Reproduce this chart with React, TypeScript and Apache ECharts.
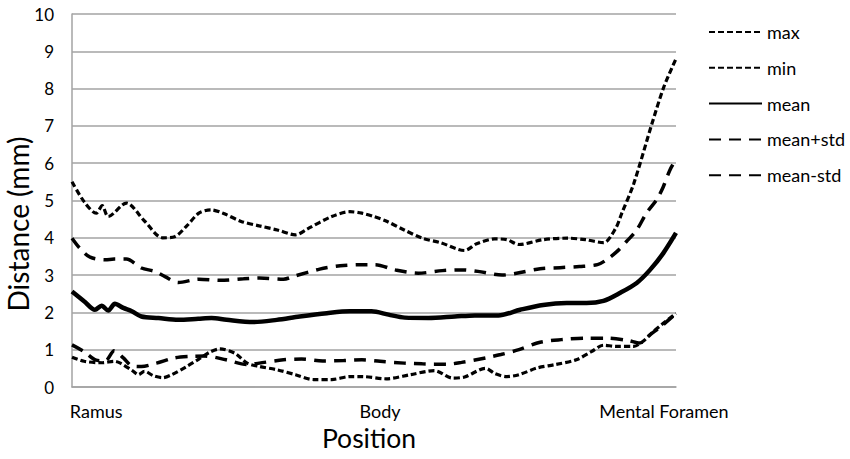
import React, { useEffect, useRef } from 'react';
import * as echarts from 'echarts';

// Positions along the mandible (0 = ramus end, 100 = mental foramen)
const positionTicks = [4, 51, 98];
const positionNames = ['Ramus', 'Body', 'Mental Foramen'];

const maxPos = [0, 2, 4, 5, 6, 9, 12, 15, 17, 19, 21, 23, 25, 28, 31, 34, 37, 39, 43, 46, 48, 50, 52, 55, 58, 61, 65, 67, 70, 72, 74, 78, 82, 85, 88, 90, 91, 93, 96, 98, 100];
const maxVal = [5.5, 4.97, 4.66, 4.86, 4.57, 4.93, 4.45, 4.0, 4.03, 4.32, 4.66, 4.75, 4.66, 4.44, 4.32, 4.21, 4.08, 4.24, 4.57, 4.7, 4.66, 4.57, 4.45, 4.21, 3.99, 3.87, 3.66, 3.84, 3.97, 3.95, 3.82, 3.95, 3.99, 3.95, 3.87, 4.25, 4.65, 5.45, 7.05, 8.05, 8.8];

const minPos = [0, 2, 5, 7, 8, 10, 11, 12, 13.5, 15, 16.5, 19, 21, 23, 24.5, 27, 29, 31, 34, 37, 40, 43, 46, 48, 52, 56, 60, 63, 65, 68.5, 70, 72, 74, 77, 80, 83.5, 86, 88, 90, 93, 94.5, 96, 98, 100];
const minVal = [0.8, 0.69, 0.65, 0.69, 0.64, 0.44, 0.33, 0.42, 0.3, 0.25, 0.33, 0.55, 0.75, 0.95, 1.02, 0.9, 0.64, 0.55, 0.46, 0.33, 0.2, 0.2, 0.28, 0.28, 0.22, 0.33, 0.44, 0.24, 0.27, 0.5, 0.36, 0.28, 0.33, 0.51, 0.6, 0.73, 0.95, 1.12, 1.09, 1.09, 1.22, 1.45, 1.72, 1.97];

const meanPos = [0, 2, 3.8, 4.9, 6, 7.1, 8.5, 9.9, 11.5, 14.3, 17.6, 20.9, 23.1, 25.6, 30, 33.9, 37.7, 42.2, 46, 49.6, 52.4, 55.1, 59, 63.4, 66.7, 70.6, 74.2, 78, 81.9, 85.2, 88, 90.7, 93.5, 95.7, 97.9, 100];
const meanVal = [2.56, 2.3, 2.07, 2.18, 2.05, 2.23, 2.12, 2.03, 1.89, 1.85, 1.8, 1.83, 1.85, 1.8, 1.74, 1.8, 1.89, 1.98, 2.03, 2.03, 1.94, 1.86, 1.85, 1.89, 1.92, 1.92, 2.07, 2.2, 2.25, 2.25, 2.31, 2.52, 2.79, 3.14, 3.59, 4.13];

const plusPos = [0, 1.3, 3, 5.5, 7, 9, 11.5, 13.7, 15.4, 17.6, 21, 24.5, 28.4, 31, 35, 37, 41, 44.4, 48, 50.2, 53.5, 57.3, 61.3, 64.6, 67.2, 71.2, 73.6, 77.5, 80.8, 84, 87, 88.5, 90.2, 91.8, 93.5, 95.1, 96.8, 97.9, 99, 100];
const plusVal = [3.99, 3.72, 3.48, 3.41, 3.43, 3.43, 3.19, 3.1, 2.96, 2.8, 2.89, 2.86, 2.9, 2.92, 2.89, 2.98, 3.16, 3.25, 3.28, 3.28, 3.14, 3.05, 3.12, 3.14, 3.1, 3.0, 3.05, 3.17, 3.2, 3.23, 3.28, 3.41, 3.63, 3.9, 4.21, 4.66, 5.02, 5.37, 5.82, 6.1];

const minusPos = [0, 2, 4, 5.5, 7, 8.5, 10, 11.5, 14, 17, 19.5, 22, 25.5, 29, 31, 35, 38, 41.5, 45, 48, 51, 55, 58, 62, 64.5, 68.5, 71, 74, 77.5, 81, 85, 88.5, 92, 94, 95.7, 97.5, 100];
const minusVal = [1.13, 0.95, 0.72, 0.7, 0.97, 0.78, 0.56, 0.55, 0.64, 0.78, 0.82, 0.83, 0.73, 0.6, 0.64, 0.73, 0.75, 0.7, 0.71, 0.73, 0.69, 0.64, 0.62, 0.61, 0.66, 0.78, 0.87, 1.0, 1.2, 1.27, 1.31, 1.31, 1.25, 1.18, 1.4, 1.62, 1.97];

const FONT = 'Lato';
const GRID_COLOR = '#a3a3a3';
const SHORT_DASH = [6, 3];
const LONG_DASH = [12, 8];

const pairs = (pos: number[], val: number[]) => pos.map((p, i) => [p, val[i]]);

const lineSeries = (name: string, pos: number[], val: number[], width: number, dash: number[] | 'solid') => ({
  name,
  type: 'line',
  data: pairs(pos, val),
  symbol: 'none',
  smooth: 0.3,
  lineStyle: { color: '#000', width, type: dash },
  itemStyle: { color: '#000' },
});

export default function App() {
  const ref = useRef<HTMLDivElement>(null);

  useEffect(() => {
    if (!ref.current) return;
    const chart = echarts.init(ref.current, undefined, { renderer: 'svg' });
    chart.setOption({
      animation: false,
      backgroundColor: '#fff',
      textStyle: { fontFamily: FONT, color: '#000' },
      grid: { left: 72, right: 174, top: 14, bottom: 72, outerBoundsMode: 'none' },
      legend: {
        orient: 'vertical',
        left: 703,
        top: 18,
        itemWidth: 53,
        itemHeight: 14,
        itemGap: 17.8,
        // line-only keys: the point marker of each entry is hidden
        itemStyle: { opacity: 0, color: 'rgba(0,0,0,0)', borderWidth: 0 },
        textStyle: { fontSize: 18, color: '#000', fontFamily: FONT },
        data: ['max', 'min', 'mean', 'mean+std', 'mean-std'],
      },
      // vertical title of the distance axis
      graphic: [
        {
          type: 'text',
          x: 18,
          y: 224,
          rotation: Math.PI / 2,
          style: {
            text: 'Distance (mm)',
            font: `28px ${FONT}`,
            fill: '#000',
            align: 'center',
            verticalAlign: 'middle',
          },
        },
      ],
      xAxis: {
        type: 'value',
        min: 0,
        max: 100,
        name: 'Position',
        nameLocation: 'middle',
        nameGap: 31,
        nameTextStyle: { fontSize: 26.5, color: '#000', fontFamily: FONT, padding: [0, 10, 0, 0] },
        axisLine: { show: true, lineStyle: { color: GRID_COLOR, width: 1.5 } },
        axisTick: { show: false },
        splitLine: { show: false },
        axisLabel: {
          customValues: positionTicks,
          fontSize: 18,
          color: '#000',
          margin: 15,
          formatter: (v: number) => {
            const i = positionTicks.indexOf(Math.round(v));
            return i >= 0 ? positionNames[i] : '';
          },
        },
      },
      yAxis: {
        type: 'value',
        min: 0,
        max: 10,
        interval: 1,
        axisLine: { show: true, lineStyle: { color: GRID_COLOR, width: 1.5 } },
        axisTick: { show: false },
        axisLabel: { fontSize: 17, color: '#000', margin: 18 },
        splitLine: { show: true, lineStyle: { color: GRID_COLOR, width: 1.5 } },
      },
      series: [
        lineSeries('max', maxPos, maxVal, 3.2, SHORT_DASH),
        lineSeries('min', minPos, minVal, 3.2, SHORT_DASH),
        lineSeries('mean', meanPos, meanVal, 4.5, 'solid'),
        lineSeries('mean+std', plusPos, plusVal, 3.5, LONG_DASH),
        lineSeries('mean-std', minusPos, minusVal, 3.5, LONG_DASH),
      ],
    });
    return () => chart.dispose();
  }, []);

  return <div ref={ref} style={{ position: 'fixed', left: 0, top: 0, width: 850, height: 459 }} />;
}
